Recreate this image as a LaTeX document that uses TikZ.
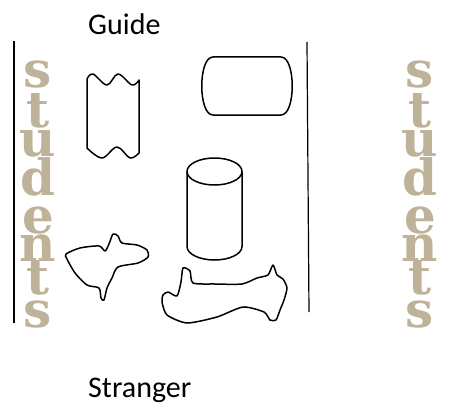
\documentclass[tikz,border=0pt]{standalone}
\usepackage{fontspec}
\usepackage{xcolor}
\usepackage{tikz}
\newfontfamily\labelfont{Carlito}
\newfontfamily\artfont{DejaVu Serif Bold}
\definecolor{wordtan}{RGB}{190,178,152}
\tikzset{
  outline/.style={draw=black, line width=1.5pt, line join=round},
  caption/.style={font=\labelfont\fontsize{30}{34}\selectfont, inner sep=0pt, anchor=base west},
  artletter/.style={font=\artfont\fontsize{50}{52}\selectfont, text=wordtan, inner sep=0pt, anchor=base},
  border/.style={black, line width=1.2pt},
}

\begin{document}
\begin{tikzpicture}[x=1pt, y=-1pt]
\useasboundingbox (0,0) rectangle (450,404);

\node[caption] (guide) at (88,35) {Guide};
\node[caption] (stranger) at (88,397) {Stranger};

% side rules
\coordinate (ltop) at (14,41);
\coordinate (lbot) at (14,323);
\coordinate (rtop) at (307,42);
\coordinate (rbot) at (309,312);
\draw[border] (ltop) -- (lbot);
\draw[border] (rtop) -- (rbot);

% vertical word art
\foreach \ch/\yb in {s/88, t/127, u/156, d/195, e/233, n/261, t/294, s/327}{
  \node[artletter] (sl-\yb) at (38,\yb) {\ch};
  \node[artletter] (sr-\yb) at (420,\yb) {\ch};
}

% tape
\draw[outline] plot[smooth, tension=0.6] coordinates {(87,79) (93,74) (107,85) (118,74) (132,85) (139,80)}
  -- plot[smooth, tension=0.6] coordinates {(139,153) (130,158) (117,147) (102,158) (87,148)}
  -- cycle;

% terminator
\draw[outline] (213,57) -- (281,57) .. controls (296,57) and (296,115) .. (281,115)
  -- (213,115) .. controls (198,115) and (198,57) .. (213,57) -- cycle;

% cylinder
\draw[outline] (214.5,171.5) ellipse (27.5 and 13.5);
\draw[outline] (187,171.5) -- (187,246.5) arc (180:0:27.5 and 13.5) -- (242,171.5);

% blobs
\draw[outline] plot[smooth cycle, tension=0.45] coordinates {
  (66,254) (80,248) (99,246) (105,251) (109,244) (113,234) (118,236) (122,243)
  (137,245) (147,250) (148,257) (138,263) (118,267) (112,278) (107,288)
  (104,300) (101,298) (99,288) (87,285) (75,273) (67,259)};
\draw[outline] plot[smooth cycle, tension=0.4] coordinates {
  (183,268) (190,271) (193,283) (215,284) (242,284) (257,278) (268,275)
  (273,265) (277,275) (283,279) (287,288) (284,300) (280,310) (276,320)
  (270,320) (264,312) (243,307) (217,317) (187,323) (167,315) (162,302)
  (163,295) (168,292) (177,296) (181,282)};
\end{tikzpicture}
\end{document}
